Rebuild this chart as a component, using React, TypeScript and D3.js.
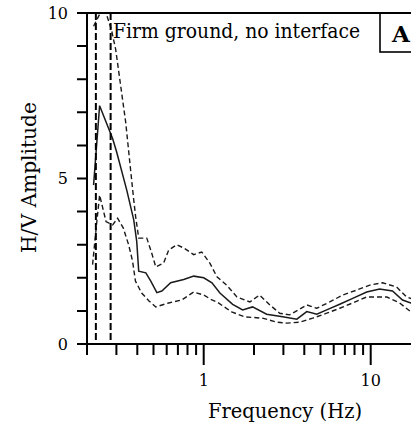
import React from "react";
import { scaleLog, scaleLinear, line, range } from "d3";

// mean H/V curve
const meanFreq = [0.219, 0.238, 0.285, 0.301, 0.346, 0.381, 0.397, 0.408, 0.45, 0.482, 0.524, 0.561, 0.634, 0.759, 0.871, 1.0, 1.12, 1.25, 1.49, 1.71, 1.96, 2.38, 2.97, 3.61, 4.14, 4.75, 5.45, 6.52, 7.8, 9.46, 11.3, 13.5, 15.5, 17.4, 19];
const meanHV = [4.8, 7.2, 6.2, 5.8, 4.65, 3.75, 3.1, 2.2, 2.15, 1.9, 1.55, 1.6, 1.85, 1.95, 2.05, 2.0, 1.85, 1.54, 1.2, 1.03, 1.12, 0.9, 0.82, 0.75, 0.98, 0.9, 1.03, 1.2, 1.38, 1.57, 1.66, 1.6, 1.33, 1.24, 1.2];

// mean + std
const upperFreq = [0.219, 0.24, 0.26, 0.28, 0.297, 0.341, 0.365, 0.381, 0.391, 0.408, 0.456, 0.488, 0.516, 0.576, 0.617, 0.689, 0.759, 0.871, 0.973, 1.086, 1.2, 1.37, 1.58, 1.89, 2.16, 2.49, 2.85, 3.27, 4.14, 4.75, 5.68, 6.8, 8.25, 9.87, 11.8, 14.3, 16.4, 18, 19];
const upperHV = [9.6, 10.0, 10.0, 9.5, 8.9, 6.7, 5.25, 4.35, 3.85, 3.2, 3.2, 2.75, 2.33, 2.45, 2.84, 3.0, 2.9, 2.7, 2.78, 2.45, 2.03, 1.78, 1.42, 1.27, 1.48, 1.18, 0.93, 0.88, 1.18, 1.08, 1.27, 1.48, 1.63, 1.78, 1.85, 1.72, 1.42, 1.35, 1.3];

// mean - std
const lowerFreq = [0.216, 0.228, 0.238, 0.26, 0.285, 0.305, 0.33, 0.355, 0.375, 0.39, 0.425, 0.47, 0.516, 0.617, 0.738, 0.871, 1.0, 1.12, 1.2, 1.47, 1.76, 2.25, 2.74, 3.14, 3.76, 4.49, 5.45, 6.52, 7.8, 9.46, 12.5, 14.9, 17.4, 19];
const lowerHV = [2.4, 3.6, 4.5, 3.7, 3.6, 3.8, 3.5, 3.0, 2.5, 1.9, 1.54, 1.3, 1.12, 1.24, 1.33, 1.57, 1.48, 1.33, 1.27, 0.97, 0.82, 0.78, 0.66, 0.63, 0.66, 0.78, 0.93, 1.08, 1.24, 1.42, 1.42, 1.24, 0.97, 0.9];

// peak frequency band markers
const markerFreq = [0.226, 0.277];

const majorTicks = [1, 10];
const minorTicks = [0.2, 0.3, 0.4, 0.5, 0.6, 0.7, 0.8, 0.9, 2, 3, 4, 5, 6, 7, 8, 9];
const yTicks = range(0, 11);
const yLabels = [0, 5, 10];

const FONT = "'DejaVu Serif', serif";

export default function App() {
  const x = scaleLog().domain([0.2, 20]).range([87, 421]);
  const y = scaleLinear().domain([0, 10]).range([344, 13]);

  const mk = (fs: number[], vs: number[]) =>
    line<number>()
      .x((d, i) => x(fs[i]))
      .y((d) => y(d))(vs) || "";

  // frame plus all tick marks in one path
  const frame =
    "M87,12V345M86,344H421M86,13H421" +
    minorTicks.map((t) => "M" + x(t).toFixed(1) + ",344V355").join("") +
    majorTicks.map((t) => "M" + x(t).toFixed(1) + ",344V365").join("") +
    yTicks.map((t) => "M77," + y(t).toFixed(1) + "H87").join("");

  return (
    <svg width={411} height={427} viewBox="0 0 411 427" style={{ position: "absolute", left: 0, top: 0, background: "#fff" }}>
      <g fill="none" stroke="#1a1a1a">
        <path d={mk(meanFreq, meanHV)} strokeWidth={1.5} />
        <path d={mk(upperFreq, upperHV)} strokeWidth={1.4} strokeDasharray="5,3" />
        <path d={mk(lowerFreq, lowerHV)} strokeWidth={1.4} strokeDasharray="5,3" />
        {markerFreq.map((f) => (
          <line key={f} x1={x(f)} x2={x(f)} y1={y(10)} y2={y(0)} stroke="#000" strokeWidth={2} strokeDasharray="7,3" />
        ))}
      </g>
      <path d={frame} stroke="#000" strokeWidth={2} fill="none" />
      <g fontSize={16} fill="#000" fontFamily={FONT}>
        {majorTicks.map((t) => (
          <text key={t} x={x(t)} y={386} textAnchor="middle">{t}</text>
        ))}
        {yLabels.map((t) => (
          <text key={t} x={68} y={y(t)} dy="0.36em" textAnchor="end">{t}</text>
        ))}
      </g>
      <g fontFamily={FONT} fill="#000">
        <text x={113} y={38} fontSize={21} textLength={247} lengthAdjust="spacingAndGlyphs">Firm ground, no interface</text>
        <rect x={380} y={13} width={45} height={39} fill="none" stroke="#000" strokeWidth={1.6} />
        <text x={392} y={42} fontSize={23} fontWeight="bold">A</text>
        <text x={208} y={418} fontSize={21} textLength={154} lengthAdjust="spacingAndGlyphs">Frequency (Hz)</text>
        <text transform="translate(36,253) rotate(-90)" fontSize={21} textLength={151} lengthAdjust="spacingAndGlyphs">H/V Amplitude</text>
      </g>
    </svg>
  );
}
